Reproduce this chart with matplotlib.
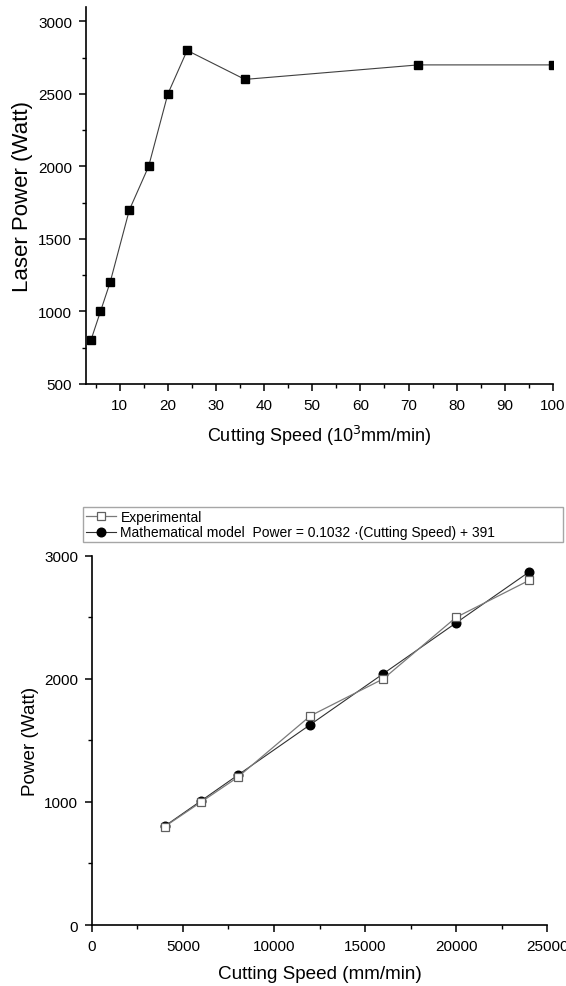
import matplotlib.pyplot as plt
from matplotlib.ticker import MultipleLocator

plt.rcParams['font.family'] = ['Liberation Sans', 'DejaVu Sans']

# top chart: laser power vs cutting speed (10^3 mm/min)
speed_k = [4, 6, 8, 12, 16, 20, 24, 36, 72, 100]
laser_power = [800, 1000, 1200, 1700, 2000, 2500, 2800, 2600, 2700, 2700]

# bottom chart: experimental vs model
speed_mm = [4000, 6000, 8000, 12000, 16000, 20000, 24000]
power_exp = [800, 1000, 1200, 1700, 2000, 2500, 2800]
power_model = [804, 1010, 1217, 1629, 2042, 2455, 2868]

fig = plt.figure(figsize=(5.66, 9.87), dpi=100)

def style_axes(ax, size):
    for s in ['top', 'right']:
        ax.spines[s].set_visible(False)
    for s in ['left', 'bottom']:
        ax.spines[s].set_linewidth(1.2)
    ax.tick_params(which='major', direction='out', length=5, width=1.1,
                   labelsize=size, pad=5)
    ax.tick_params(which='minor', direction='out', length=3, width=1.0)

# top
ax1 = fig.add_axes([0.152, 0.610, 0.825, 0.382])
ax1.plot(speed_k, laser_power, color='#404040', lw=0.8, marker='s', ms=6,
         mfc='black', mec='black')
ax1.set_xlim(3, 100)
ax1.set_ylim(500, 3100)
ax1.xaxis.set_minor_locator(MultipleLocator(5))
ax1.yaxis.set_major_locator(MultipleLocator(500))
ax1.yaxis.set_minor_locator(MultipleLocator(250))
ax1.set_xticks([10, 20, 30, 40, 50, 60, 70, 80, 90, 100])
style_axes(ax1, 11)
ax1.set_xlabel('Cutting Speed (10$^3$mm/min)', fontsize=13, labelpad=8)
ax1.set_ylabel('Laser Power (Watt)', fontsize=16, labelpad=4)

# bottom
ax2 = fig.add_axes([0.1625, 0.0618, 0.804, 0.374])
ax2.plot(speed_mm, power_exp, color='#7a7a7a', lw=0.9, marker='s', ms=5.5,
         mfc='white', mec='#606060', mew=0.9, label='Experimental', zorder=3)
ax2.plot(speed_mm, power_model, color='#303030', lw=0.8, marker='o', ms=6.2,
         mfc='black', mec='black',
         label='Mathematical model  Power = 0.1032 \u00b7(Cutting Speed) + 391', zorder=2)
ax2.set_xlim(0, 25000)
ax2.set_ylim(0, 3000)
ax2.xaxis.set_major_locator(MultipleLocator(5000))
ax2.xaxis.set_minor_locator(MultipleLocator(2500))
ax2.yaxis.set_major_locator(MultipleLocator(1000))
ax2.yaxis.set_minor_locator(MultipleLocator(500))
style_axes(ax2, 11)
ax2.set_xlabel('Cutting Speed (mm/min)', fontsize=13.6, labelpad=9)
ax2.set_ylabel('Power (Watt)', fontsize=13.6, labelpad=4)

handles, labels = ax2.get_legend_handles_labels()
leg = fig.legend(handles, labels, loc='upper left', mode='expand',
                 bbox_to_anchor=(0.1466, 0.4853, 0.848, 0.0),
                 fontsize=10, frameon=True, fancybox=False, borderpad=0.2,
                 labelspacing=0.12, handlelength=2.2, handletextpad=0.3,
                 borderaxespad=0)
leg.get_frame().set_edgecolor('#909090')
leg.get_frame().set_linewidth(1.0)

fig.savefig('out.png', dpi=100)
